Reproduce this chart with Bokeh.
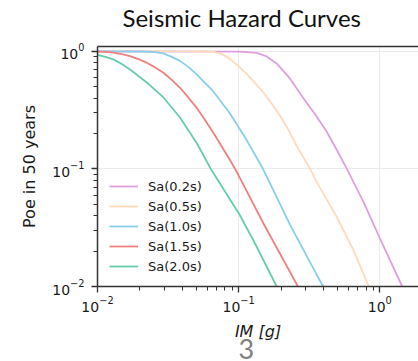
from bokeh.plotting import figure
from bokeh.models import FixedTicker, LogAxis, Title
from bokeh.embed import file_html
from bokeh.resources import INLINE

# ---- data ----
names = ["Sa(0.2s)", "Sa(0.5s)", "Sa(1.0s)", "Sa(1.5s)", "Sa(2.0s)"]
colors = ["#DDA0DD", "#FFDAB9", "#87CEEB", "#F08080", "#66CDAA"]

im_02 = [0.01, 0.1021, 0.1341, 0.1578, 0.1857, 0.2307, 0.2984, 0.3512, 0.4195, 0.4939, 0.5811,
         0.763, 1.0, 1.4405]
poe_02 = [1.0, 0.994, 0.971, 0.906, 0.79, 0.589, 0.375, 0.2876, 0.2081, 0.1462, 0.1017,
          0.053, 0.0258, 0.01]

im_05 = [0.01, 0.05044, 0.05772, 0.06619, 0.0758, 0.08679, 0.1, 0.1139, 0.1304, 0.1496, 0.1712,
         0.196, 0.2244, 0.2573, 0.3206, 0.356, 0.494, 0.648, 0.836]
poe_05 = [1.0, 0.999, 0.997, 0.99, 0.952, 0.863, 0.745, 0.643, 0.539, 0.447, 0.36,
          0.285, 0.217, 0.158, 0.1, 0.078, 0.0393, 0.02055, 0.01]

im_10 = [0.01, 0.01928, 0.02233, 0.02557, 0.02932, 0.03356, 0.03842, 0.04397, 0.05044, 0.05772,
         0.06619, 0.08679, 0.1139, 0.1496, 0.231, 0.357, 0.397]
poe_10 = [0.998, 0.997, 0.995, 0.984, 0.9615, 0.898, 0.83, 0.738, 0.637, 0.539,
          0.456, 0.296, 0.176, 0.0988, 0.0336, 0.0126, 0.01]

im_15 = [0.01, 0.01139, 0.01297, 0.01486, 0.01701, 0.01948, 0.02233, 0.02557, 0.02932, 0.03356,
         0.03842, 0.04397, 0.05044, 0.05772, 0.06619, 0.08679, 0.0945, 0.1496, 0.263]
poe_15 = [0.995, 0.992, 0.975, 0.947, 0.912, 0.858, 0.801, 0.7305, 0.658, 0.5717,
          0.49, 0.4055, 0.331, 0.2608, 0.2028, 0.119, 0.1, 0.0345, 0.01]

im_20 = [0.01, 0.01139, 0.01297, 0.01486, 0.01701, 0.02233, 0.02932, 0.03842, 0.05044, 0.0635,
         0.1016, 0.1276, 0.186]
poe_20 = [0.935, 0.898, 0.855, 0.782, 0.702, 0.544, 0.4055, 0.274, 0.166, 0.1,
          0.0408, 0.0245, 0.01]

x_ticks = [0.01, 0.1, 1.0]
y_ticks = [0.01, 0.1, 1.0]
x_minor = [m * d for d in (0.01, 0.1, 1.0) for m in range(2, 10)]
y_minor = [m * d for d in (0.01, 0.1) for m in range(2, 10)]

title_text = "Seismic Hazard Curves"
x_label = "IM [g]"
y_label = "Poe in 50 years"
page_number = "3"

series = [(im_02, poe_02), (im_05, poe_05), (im_10, poe_10), (im_15, poe_15), (im_20, poe_20)]

p = figure(width=418, height=361, x_axis_type="log", y_axis_type="log",
           x_range=(0.01, 1.88), y_range=(0.01, 1.1),
           output_backend="svg", toolbar_location=None,
           min_border_left=97, min_border_right=0, min_border_top=46, min_border_bottom=75)
p.outline_line_color = None
p.background_fill_color = "white"

for (xs, ys), name, c in zip(series, names, colors):
    p.line(xs, ys, line_color=c, line_width=1.8, legend_label=name)

axis_col = "#333333"
for ax, ticks, minor in ((p.xaxis, x_ticks, x_minor), (p.yaxis, y_ticks, y_minor)):
    ax.ticker = FixedTicker(ticks=ticks, minor_ticks=minor)
    ax.axis_line_color = axis_col
    ax.axis_line_width = 1.5
    ax.major_tick_line_color = axis_col
    ax.major_tick_line_width = 1.3
    ax.minor_tick_line_color = axis_col
    ax.minor_tick_line_width = 1.0
    ax.major_tick_in = 0
    ax.major_tick_out = 6
    ax.minor_tick_in = 0
    ax.minor_tick_out = 4
    ax.major_label_text_font = "DejaVu Sans"
    ax.major_label_text_font_size = "14px"
    ax.major_label_text_color = "#1a1a1a"
    ax.axis_label_text_font = "DejaVu Sans"
    ax.axis_label_text_font_size = "16px"
    ax.axis_label_text_color = "#1a1a1a"

p.xaxis.axis_label = x_label
p.xaxis.axis_label_text_font_style = "italic"
p.xaxis.major_label_standoff = 3
p.xaxis.axis_label_standoff = 7
p.yaxis.axis_label = y_label
p.yaxis.axis_label_text_font_style = "normal"
p.yaxis.major_label_standoff = 7
p.yaxis.axis_label_standoff = 10

p.xgrid.grid_line_color = "#ebebeb"
p.ygrid.grid_line_color = "#ebebeb"
p.xgrid.grid_line_width = 1
p.ygrid.grid_line_width = 1

# top spine (an axis without visible ticks or labels, also spacing the title)
top = LogAxis(ticker=FixedTicker(ticks=x_ticks), axis_line_color=axis_col, axis_line_width=1.5,
              major_tick_in=0, major_tick_out=15, major_tick_line_color=None,
              minor_tick_in=0, minor_tick_out=0, minor_tick_line_color=None,
              major_label_text_font_size="1px", major_label_text_alpha=0,
              major_label_standoff=0)
p.add_layout(top, "above")

p.title.text = title_text
p.title.text_font = "Lato"
p.title.text_font_size = "24px"
p.title.text_font_style = "normal"
p.title.text_color = "#111111"
p.title.align = "left"
p.title.offset = 25
p.title.standoff = 0

leg = p.legend[0]
leg.location = (12, 10)
leg.label_text_font = "DejaVu Sans"
leg.label_text_font_size = "13px"
leg.label_text_color = "#1a1a1a"
leg.glyph_width = 29
leg.glyph_height = 20
leg.label_height = 20
leg.label_standoff = 10
leg.spacing = 0
leg.padding = 0
leg.margin = 0
leg.border_line_color = None
leg.background_fill_alpha = 0

page = Title(text=page_number, text_font="Lato", text_font_size="27px", text_font_style="normal",
             text_color="#7f7f7f", align="left", offset=141, vertical_align="top", standoff=-10)
p.add_layout(page, "below")

open("out.html", "w").write(file_html(p, INLINE))
